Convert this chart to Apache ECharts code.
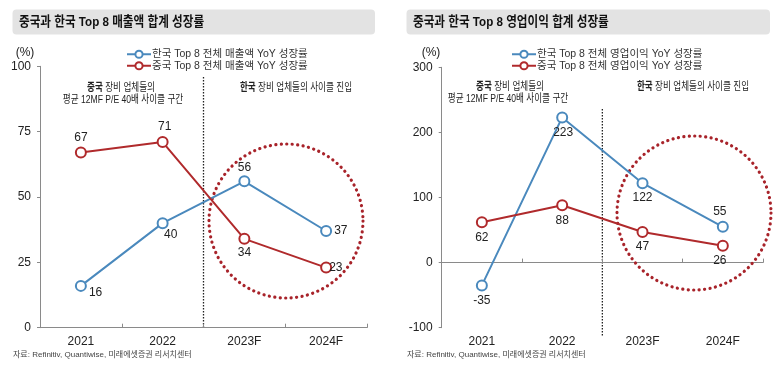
<!DOCTYPE html>
<html><head><meta charset="utf-8">
<script src="https://cdn.jsdelivr.net/npm/echarts@6/dist/echarts.min.js"></script>
<style>html,body{margin:0;padding:0;background:#fff}#c{width:775px;height:368px}</style>
</head><body><div id="c"></div>
<script>
const categories = ['2021', '2022', '2023F', '2024F'];
const korRevName = '한국 Top 8 전체 매출액 YoY 성장률';
const chnRevName = '중국 Top 8 전체 매출액 YoY 성장률';
const korOpName = '한국 Top 8 전체 영업이익 YoY 성장률';
const chnOpName = '중국 Top 8 전체 영업이익 YoY 성장률';
const korRev = [16, 40, 56, 37];
const chnRev = [67, 71, 34, 23];
const korOp = [-35, 223, 122, 55];
const chnOp = [62, 88, 47, 26];
const leftTicks = [0, 25, 50, 75, 100];
const rightTicks = [-100, 0, 100, 200, 300];

const FONT = "'Liberation Sans', 'Noto Sans CJK KR', sans-serif";
const BLUE = '#4a89bd';
const RED = '#b02a2c';
const DOT = '#a8232a';
const AX = '#8a8a8a';
const TXT = '#222';

const chart = echarts.init(document.getElementById('c'), null, {renderer: 'canvas'});

function lbl(pos, dist, off) {
  const o = {show: true, position: pos, distance: dist, color: TXT, fontSize: 12, fontFamily: FONT};
  if (off) o.offset = off;
  return o;
}
function mk(vals, labels) {
  return vals.map((v, i) => ({value: v, label: labels[i]}));
}
function series(name, data, color, xi, yi) {
  return {
    name, type: 'line', xAxisIndex: xi, yAxisIndex: yi, data,
    symbol: 'emptyCircle', symbolSize: 10,
    lineStyle: {color, width: 2}, itemStyle: {color, borderColor: color, borderWidth: 2},
    emphasis: {disabled: true}, animation: false, z: 5
  };
}

const yCommon = {
  type: 'value',
  axisLine: {show: true, lineStyle: {color: AX, width: 1}},
  axisTick: {show: true, inside: false, length: 3, lineStyle: {color: AX}},
  splitLine: {show: false},
  axisLabel: {color: TXT, fontSize: 12, fontFamily: FONT, margin: 9}
};

const legendText = {color: '#333', fontSize: 10.5, fontFamily: FONT, padding: [0, 0, 0, -4]};

const option = {
  animation: false,
  textStyle: {fontFamily: FONT},
  grid: [
    {left: 40, right: 408, top: 66.3, bottom: 40.3},
    {left: 441.7, right: 12, top: 67.3, bottom: 40.3}
  ],
  xAxis: [
    {gridIndex: 0, type: 'category', data: categories, boundaryGap: true,
     axisLine: {show: true, onZero: false, lineStyle: {color: AX}},
     axisTick: {show: true, inside: true, length: 4, lineStyle: {color: AX}},
     axisLabel: {color: TXT, fontSize: 12, fontFamily: FONT, margin: 8}},
    {gridIndex: 1, type: 'category', data: categories, boundaryGap: true, position: 'bottom',
     axisLine: {show: false, onZero: false},
     axisTick: {show: false},
     axisLabel: {color: TXT, fontSize: 12, fontFamily: FONT, margin: 8}},
    {gridIndex: 1, type: 'category', data: categories, boundaryGap: true, position: 'bottom',
     axisLine: {show: true, onZero: true, lineStyle: {color: AX}},
     axisTick: {show: true, inside: true, length: 4, lineStyle: {color: AX}},
     axisLabel: {show: false}}
  ],
  yAxis: [
    Object.assign({}, yCommon, {gridIndex: 0, min: leftTicks[0], max: leftTicks[leftTicks.length - 1], interval: 25}),
    Object.assign({}, yCommon, {gridIndex: 1, min: rightTicks[0], max: rightTicks[rightTicks.length - 1], interval: 100})
  ],
  legend: [
    {orient: 'vertical', left: 121, top: 44, itemWidth: 24, itemHeight: 9, itemGap: 1,
     data: [korRevName, chnRevName], textStyle: legendText},
    {orient: 'vertical', left: 506, top: 44, itemWidth: 24, itemHeight: 9, itemGap: 1,
     data: [korOpName, chnOpName], textStyle: legendText}
  ],
  series: [
    series(korRevName, mk(korRev, [lbl('right', 2, [0, 7]), lbl('bottom', 2, [8, -2]), lbl('top', 2), lbl('right', 2)]), BLUE, 0, 0),
    series(chnRevName, mk(chnRev, [lbl('top', 3), lbl('top', 3, [2, 0]), lbl('bottom', 2), lbl('right', -3)]), RED, 0, 0),
    series(korOpName, mk(korOp, [lbl('bottom', 3), lbl('bottom', 3, [1, 0]), lbl('bottom', 3), lbl('top', 3, [-3, 0])]), BLUE, 1, 1),
    series(chnOpName, mk(chnOp, [lbl('bottom', 3), lbl('bottom', 3), lbl('bottom', 3), lbl('bottom', 3, [-3, 0])]), RED, 1, 1)
  ]
};
chart.setOption(option);

// decorations positioned from axis geometry
const l1 = chart.convertToPixel({xAxisIndex: 0}, categories[1]);
const l2 = chart.convertToPixel({xAxisIndex: 0}, categories[2]);
const r1 = chart.convertToPixel({xAxisIndex: 1}, categories[1]);
const r2 = chart.convertToPixel({xAxisIndex: 1}, categories[2]);
const lx = (l1 + l2) / 2, rx = (r1 + r2) / 2;
const lBottom = chart.convertToPixel({yAxisIndex: 0}, 0);
const rBottom = chart.convertToPixel({yAxisIndex: 1}, -100);

const NF = 11;
const richDef = {
  r: {color: RED, fontSize: NF, fontFamily: FONT, fontWeight: 'bold'},
  b: {color: BLUE, fontSize: NF, fontFamily: FONT, fontWeight: 'bold'},
  n: {color: TXT, fontSize: NF, fontFamily: FONT}
};
function note(x, y, text, rich) {
  const style = {text, align: 'center', verticalAlign: 'middle', font: NF + 'px ' + FONT, fill: TXT};
  if (rich) style.rich = richDef;
  return {type: 'text', x, y, scaleX: 0.78, style, silent: true};
}

chart.setOption({graphic: [
  {type: 'rect', shape: {x: 12.5, y: 9.5, width: 362.5, height: 25, r: 4}, style: {fill: '#e3e3e3'}, silent: true},
  {type: 'rect', shape: {x: 406.5, y: 9.5, width: 363.5, height: 25, r: 4}, style: {fill: '#e3e3e3'}, silent: true},
  {type: 'text', x: 19, y: 22, scaleX: 0.86, style: {text: '중국과 한국 Top 8 매출액 합계 성장률', font: 'bold 13.5px ' + FONT, fill: '#111', verticalAlign: 'middle'}, silent: true},
  {type: 'text', x: 413, y: 22, scaleX: 0.86, style: {text: '중국과 한국 Top 8 영업이익 합계 성장률', font: 'bold 13.5px ' + FONT, fill: '#111', verticalAlign: 'middle'}, silent: true},
  {type: 'text', x: 25, y: 53, style: {text: '(%)', font: '12px ' + FONT, fill: TXT, align: 'center', verticalAlign: 'middle'}, silent: true},
  {type: 'text', x: 431, y: 53, style: {text: '(%)', font: '12px ' + FONT, fill: TXT, align: 'center', verticalAlign: 'middle'}, silent: true},
  {type: 'line', shape: {x1: lx, y1: 77, x2: lx, y2: lBottom}, style: {stroke: '#222', lineWidth: 1.3, lineDash: [1.5, 1.5]}, silent: true},
  {type: 'line', shape: {x1: rx, y1: 109, x2: rx, y2: rBottom + 9}, style: {stroke: '#222', lineWidth: 1.3, lineDash: [1.5, 1.5]}, silent: true},
  note(121, 88, '{r|중국}{n| 장비 업체들의}', true),
  note(123, 100, '평균 12MF P/E 40배 사이클 구간'),
  note(296, 88, '{b|한국}{n| 장비 업체들의 사이클 진입}', true),
  note(510, 87, '{r|중국}{n| 장비 업체들의}', true),
  note(508, 99, '평균 12MF P/E 40배 사이클 구간'),
  note(693, 87, '{b|한국}{n| 장비 업체들의 사이클 진입}', true),
  {type: 'circle', shape: {cx: 286, cy: 221, r: 77}, style: {fill: 'none', stroke: DOT, lineWidth: 3.2, lineDash: [0.1, 5.4], lineCap: 'round'}, silent: true, z: 1},
  {type: 'circle', shape: {cx: 694, cy: 213, r: 77}, style: {fill: 'none', stroke: DOT, lineWidth: 3.2, lineDash: [0.1, 5.4], lineCap: 'round'}, silent: true, z: 1},
  {type: 'text', x: 13, y: 355, style: {text: '자료: Refinitiv, Quantiwise, 미래에셋증권 리서치센터', font: '8px ' + FONT, fill: '#444', verticalAlign: 'middle'}, silent: true},
  {type: 'text', x: 407, y: 355, style: {text: '자료: Refinitiv, Quantiwise, 미래에셋증권 리서치센터', font: '8px ' + FONT, fill: '#444', verticalAlign: 'middle'}, silent: true}
]});
</script></body></html>
